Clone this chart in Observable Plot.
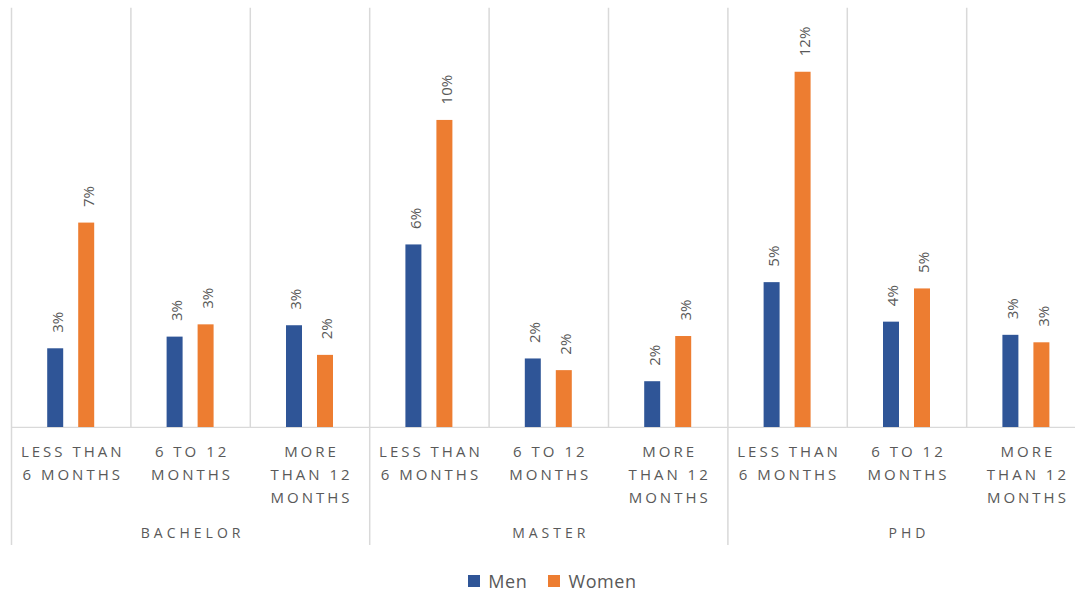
<!DOCTYPE html>
<html>
<head>
<meta charset="utf-8">
<script src="https://cdn.jsdelivr.net/npm/d3@7"></script>
<script src="https://cdn.jsdelivr.net/npm/@observablehq/plot@0.6"></script>
<style>
  body { margin: 0; background: #ffffff; font-family: "Open Sans", sans-serif; }
  #chart { width: 1075px; overflow: hidden; }
  #chart svg { display: block; max-width: none !important; }
  g[aria-description="duration labels"] text { letter-spacing: 3px; }
  g[aria-description="level labels"] text { letter-spacing: 4px; }
  .legend {
    display: flex; justify-content: center; align-items: center; gap: 21px;
    margin: 24px 0 0 30px; width: 1045px; height: 24px;
    font-size: 18px; color: #595959; letter-spacing: 0.6px;
  }
  .legend span { display: inline-flex; align-items: center; gap: 8px; }
  .legend i { display: inline-block; width: 12px; height: 12px; }
</style>
</head>
<body>
<div id="chart"></div>
<script>
// Share of graduates by degree level, time to first job and gender
const levels = ["BACHELOR", "MASTER", "PHD"];
const durations = ["LESS THAN\n6 MONTHS", "6 TO 12\nMONTHS", "MORE\nTHAN 12\nMONTHS"];
const series = ["Men", "Women"];
const colors = ["#2F5597", "#ED7D31"];
// values listed level by level, durations in the order above
const men   = [0.0263, 0.0302, 0.0340, 0.0610, 0.0229, 0.0153, 0.0484, 0.0352, 0.0308];
const women = [0.0683, 0.0343, 0.0241, 0.1026, 0.0190, 0.0304, 0.1187, 0.0463, 0.0283];

const keys = levels.flatMap(l => durations.map(d => l + "|" + d));
const rows = keys.flatMap((key, i) => [
  {key, series: "Men", value: men[i]},
  {key, series: "Women", value: women[i]}
]);
const labelRows = levels.flatMap(level => durations.map(duration => ({level, duration})));

const grid = "#D9D9D9";
const ink = "#595959";
const font = "'Open Sans', sans-serif";
const pct = d3.format(".0%");

const bars = Plot.plot({
  width: 1087, height: 428,
  marginTop: 8, marginBottom: 1, marginLeft: 11, marginRight: 1.4,
  style: {fontFamily: font, background: "#ffffff", maxWidth: "none"},
  fx: {domain: keys, padding: 0, round: false, axis: null},
  x: {domain: series, paddingInner: 0.484, paddingOuter: 1.168, round: false, axis: null},
  y: {domain: [0, 0.14], axis: null},
  color: {domain: series, range: colors},
  marks: [
    Plot.frame({anchor: "left", stroke: grid, strokeWidth: 1.5}),
    Plot.ruleY([0], {stroke: grid, strokeWidth: 1.5}),
    Plot.barY(rows, {fx: "key", x: "series", y: "value", fill: "series"}),
    Plot.text(rows, {
      fx: "key", x: "series", y: "value", text: d => pct(d.value),
      rotate: -90, textAnchor: "start", dy: -16, dx: 2,
      fontSize: 15, fill: ink
    })
  ]
});

const labels = Plot.plot({
  width: 1087, height: 117,
  marginTop: 0, marginBottom: 0, marginLeft: 11, marginRight: 1.4,
  style: {fontFamily: font, background: "#ffffff", maxWidth: "none"},
  fx: {domain: levels, padding: 0, round: false, axis: null},
  x: {type: "band", domain: durations, padding: 0, round: false, axis: null},
  marks: [
    Plot.frame({anchor: "left", stroke: grid, strokeWidth: 1.5}),
    Plot.text(labelRows, {
      fx: "level", x: "duration", text: "duration",
      frameAnchor: "top", lineAnchor: "top", dy: 12, dx: 1.5,
      lineHeight: 1.53, fontSize: 15, fill: ink,
      ariaDescription: "duration labels"
    }),
    Plot.text(levels, {
      fx: d => d, text: d => d,
      frameAnchor: "top", lineAnchor: "top", dy: 100, dx: 2,
      fontSize: 14, fill: ink,
      ariaDescription: "level labels"
    })
  ]
});

const chart = document.getElementById("chart");
chart.append(bars, labels);

const legend = document.createElement("div");
legend.className = "legend";
series.forEach((s, i) => {
  const item = document.createElement("span");
  const swatch = document.createElement("i");
  swatch.style.background = colors[i];
  item.append(swatch, document.createTextNode(s));
  legend.append(item);
});
document.body.append(legend);
</script>
</body>
</html>
